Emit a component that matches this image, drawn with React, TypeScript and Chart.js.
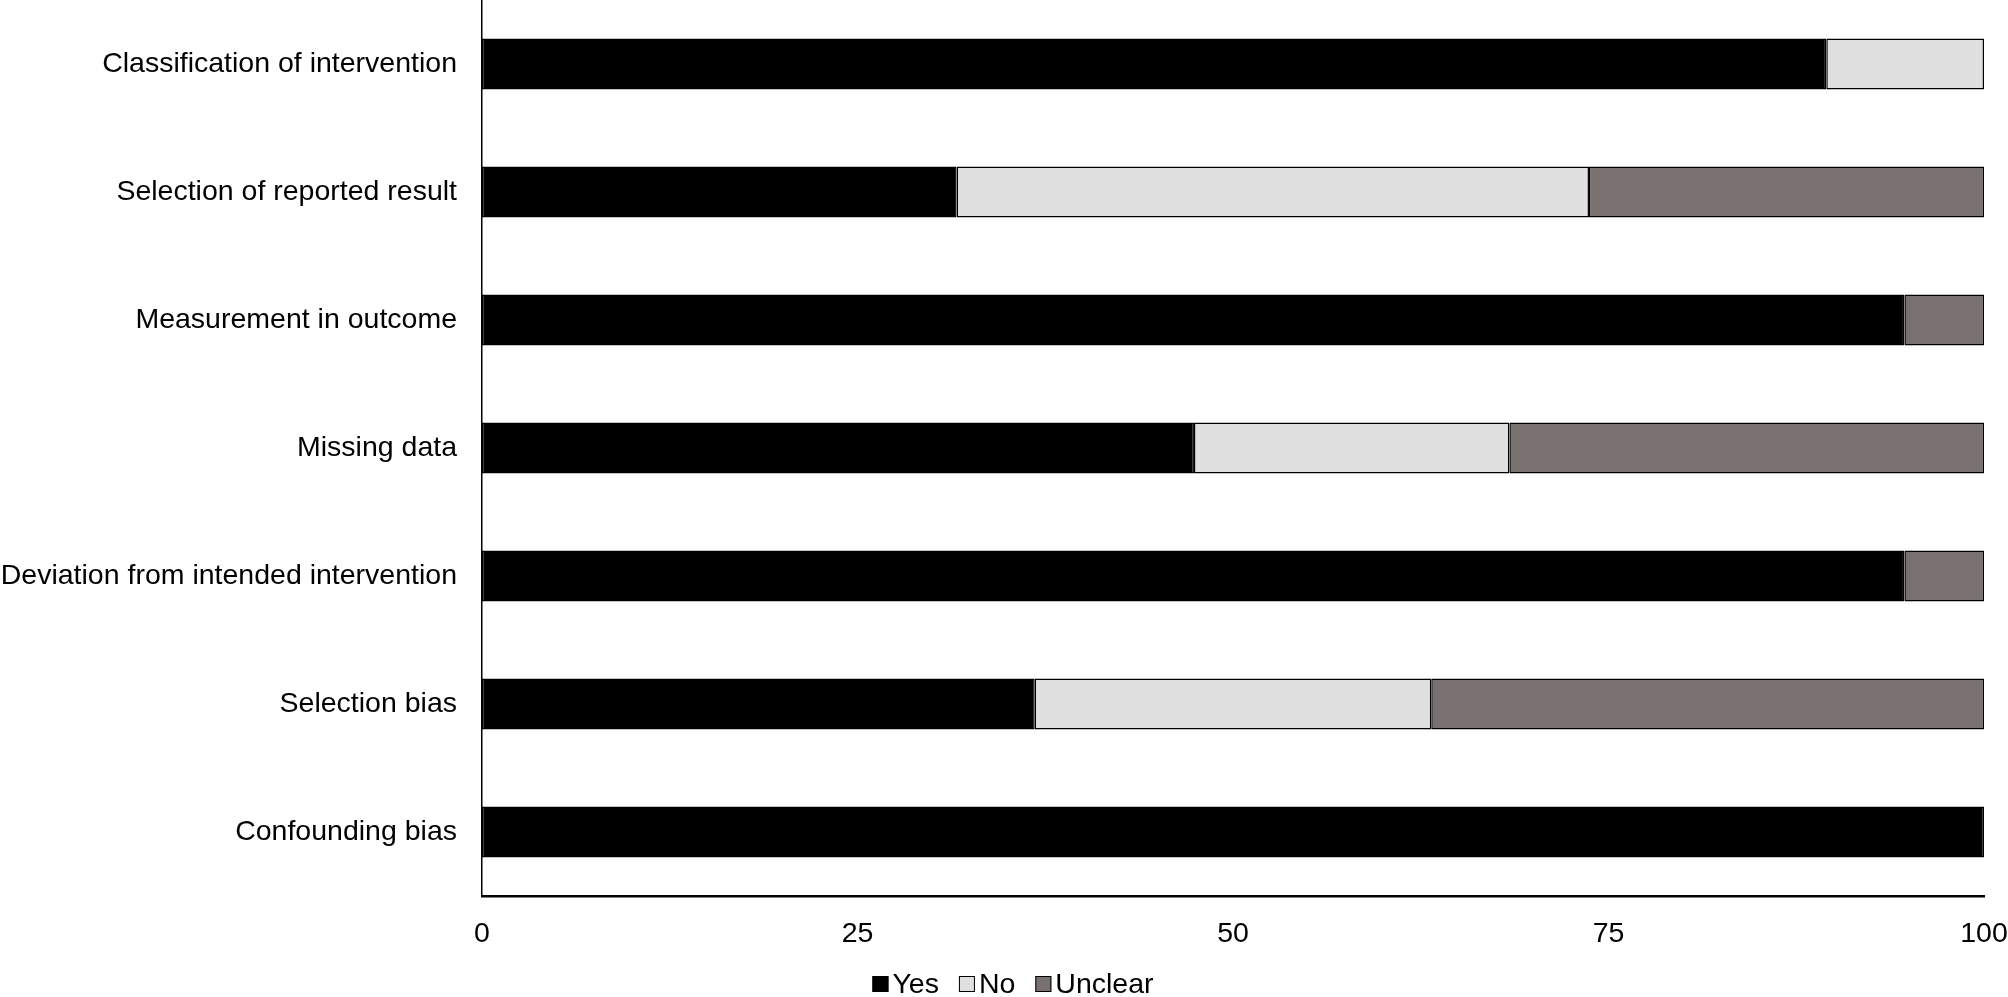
import React, { useEffect, useRef } from "react";
import { Chart, registerables } from "chart.js";

Chart.register(...registerables);

const categories = [
  "Classification of intervention",
  "Selection of reported result",
  "Measurement in outcome",
  "Missing data",
  "Deviation from intended intervention",
  "Selection bias",
  "Confounding bias",
];

const yesValues = [89.5, 31.6, 94.7, 47.4, 94.7, 36.8, 100];
const noValues = [10.5, 42.1, 0, 21.0, 0, 26.4, 0];
const unclearValues = [0, 26.3, 5.3, 31.6, 5.3, 36.8, 0];

const seriesNames = ["Yes", "No", "Unclear"];
const seriesColors = ["#000000", "#dfdfdf", "#787170"];
const xTicks = [0, 25, 50, 75, 100];

const FONT = "'Liberation Sans', Arial, sans-serif";
const FONT_SIZE = 28.5;

const legendPlugin = {
  id: "customLegend",
  afterDraw(chart: any) {
    const ctx = chart.ctx;
    const ds = chart.data.datasets;
    ctx.save();
    ctx.font = `${FONT_SIZE}px ${FONT}`;
    ctx.textBaseline = "middle";
    const box = 16;
    const gap = 4;
    const spacing = 20;
    let total = 0;
    const widths = ds.map((d: any) => ctx.measureText(d.label).width);
    widths.forEach((w: number, i: number) => {
      total += box + gap + w + (i < widths.length - 1 ? spacing : 0);
    });
    let x = 1013 - total / 2;
    const y = 984;
    ds.forEach((d: any, i: number) => {
      ctx.fillStyle = d.backgroundColor;
      ctx.fillRect(x, y - box / 2, box, box);
      ctx.strokeStyle = "#000";
      ctx.lineWidth = 1;
      ctx.strokeRect(x + 0.5, y - box / 2 + 0.5, box - 1, box - 1);
      x += box + gap;
      ctx.fillStyle = "#000";
      ctx.fillText(d.label, x, y + 1);
      x += widths[i] + spacing;
    });
    ctx.restore();
  },
};

const zeroPad = (scale: any) => {
  scale.paddingTop = 0;
  scale.paddingBottom = 0;
  scale.paddingLeft = 0;
  scale.paddingRight = 0;
};

export default function App() {
  const ref = useRef<HTMLCanvasElement>(null);
  useEffect(() => {
    document.body.style.margin = "0";
    const values = [yesValues, noValues, unclearValues];
    const chart = new Chart(ref.current!, {
      type: "bar",
      data: {
        labels: categories,
        datasets: seriesNames.map((name, i) => ({
          label: name,
          data: values[i],
          backgroundColor: seriesColors[i],
          borderColor: "#000",
          borderWidth: 1.5,
          borderSkipped: false,
          barPercentage: 0.4,
          categoryPercentage: 1,
        })),
      },
      options: {
        indexAxis: "y",
        responsive: false,
        animation: false,
        devicePixelRatio: 1,
        layout: { padding: { top: 0, left: 0, right: 24, bottom: 41 } },
        plugins: {
          legend: { display: false },
          tooltip: { enabled: false },
          title: { display: false },
        },
        scales: {
          x: {
            stacked: true,
            min: 0,
            max: 100,
            afterBuildTicks: (scale: any) => {
              scale.ticks = xTicks.map((v) => ({ value: v }));
            },
            afterFit: (scale: any) => {
              scale.height = 60;
              zeroPad(scale);
            },
            grid: { display: false, drawTicks: false },
            border: { display: true, color: "#000", width: 2.5 },
            ticks: {
              color: "#000",
              padding: 21,
              maxRotation: 0,
              font: { family: FONT, size: FONT_SIZE },
            },
          },
          y: {
            stacked: true,
            afterFit: (scale: any) => {
              scale.width = 482;
              zeroPad(scale);
            },
            grid: { display: false, drawTicks: false },
            border: { display: true, color: "#000", width: 1.5 },
            ticks: {
              color: "#000",
              padding: 25,
              font: { family: FONT, size: FONT_SIZE },
            },
          },
        },
      },
      plugins: [legendPlugin],
    });
    return () => chart.destroy();
  }, []);
  return (
    <div style={{ position: "absolute", left: 0, top: 0, width: 2008, height: 997, background: "#fff" }}>
      <canvas ref={ref} width={2008} height={997} />
    </div>
  );
}
